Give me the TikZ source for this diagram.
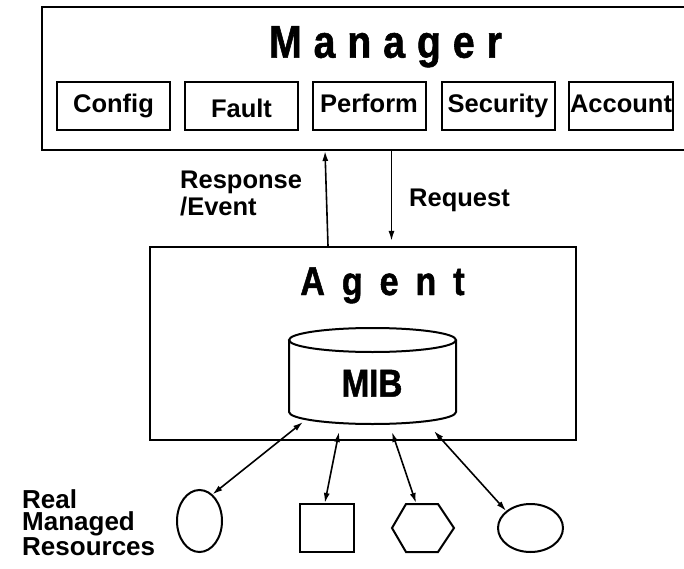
\documentclass[tikz,border=0pt]{standalone}
\usepackage{fontspec}
\setmainfont{Liberation Sans}
\newfontfamily\titlefont[FakeStretch=0.85,FakeBold=1.2]{Liberation Sans}
\usetikzlibrary{shapes.geometric,arrows.meta}
\tikzset{
	frame/.style={draw, line width=2pt, inner sep=0pt},
	fnbox/.style={frame, minimum width=113pt, minimum height=48pt, text height=18pt, text depth=5pt, font=\bfseries\fontsize{25.5}{30}\selectfont},
	title/.style={anchor=base, inner sep=0pt, font=\titlefont\bfseries\fontsize{42}{46}\selectfont},
	label/.style={anchor=base west, align=left, inner sep=0pt, font=\bfseries\fontsize{25.5}{27}\selectfont},
	tip/.style={-{Latex[length=10pt,width=6pt]}, line width=1.6pt},
	link/.style={{Latex[length=10pt,width=6pt]}-{Latex[length=10pt,width=6pt]}, line width=1.6pt},
}

\begin{document}
\begin{tikzpicture}[x=1pt,y=-1pt]
	\useasboundingbox (0,0) rectangle (684,569);
	\clip (0,0) rectangle (684,569);
	% manager
	\node[frame, minimum width=648pt, minimum height=142.5pt] (mgr) at (366,78.75) {};
	\node[title, font=\titlefont\bfseries\fontsize{46}{50}\selectfont] (mgrtitle) at (385.5,57.7) {\spaceskip=12pt M a n a g e r};
	\node[fnbox] (config) at (113.5,106) {Config};
	\node[fnbox] (fault) at (241.5,106) {\raisebox{-5pt}{Fault}};
	\node[fnbox] (perform) at (369,106) {Perform};
	\node[fnbox] (security) at (498,106) {Security};
	\node[fnbox, minimum width=104pt] (account) at (621,106) {Account};
	% agent
	\node[frame, minimum width=426pt, minimum height=193pt] (agent) at (363,343.4) {};
	\node[title, font=\titlefont\bfseries\fontsize{40}{46}\selectfont] (agenttitle) at (382.5,295) {\spaceskip=17pt A g e n t};
	% mib
	\draw[line width=2pt] (289,340) -- (289,412) arc[start angle=180, end angle=0, x radius=83.5, y radius=12] -- (456,340);
	\draw[line width=2pt] (372.5,340) ellipse [x radius=83.5, y radius=12];
	\node[title, font=\titlefont\bfseries\fontsize{39}{40}\selectfont] (mib) at (372,396.7) {MIB};
	% requests
	\draw[tip] ([xshift=-35pt]agent.north) -- ([xshift=-41pt]mgr.south);
	\draw[tip, shorten >=5pt] ([xshift=25.5pt]mgr.south) -- ([xshift=28.5pt]agent.north);
	\node[label] (resp) at (180,215) {Response\\/Event};
	\node[label] (req) at (409,206.7) {Request};
	% resources
	\node[frame, ellipse, minimum width=45pt, minimum height=62pt] (r1) at (199.5,521) {};
	\node[frame, minimum width=54pt, minimum height=48pt] (r2) at (327,528) {};
	\draw[line width=2pt] (392,528) -- (406,504) -- (438,504) -- (454,528) -- (438,552) -- (406,552) -- cycle;
	\coordinate (r3) at (416,503);
	\node[frame, ellipse, minimum width=65pt, minimum height=48pt] (r4) at (530.5,528) {};
	\node[label, font=\bfseries\fontsize{26}{22}\selectfont] (real) at (22,555) {Real\\Managed\\Resources};
	% links
	\coordinate (m1) at (303,422);
	\coordinate (m2) at (339,432);
	\coordinate (m3) at (392,432);
	\coordinate (m4) at (434,431);
	\draw[link] (m1) -- (r1.64);
	\draw[link] (m2) -- (r2.95);
	\draw[link] (m3) -- (r3);
	\draw[link] (m4) -- (r4.145);
\end{tikzpicture}
\end{document}
